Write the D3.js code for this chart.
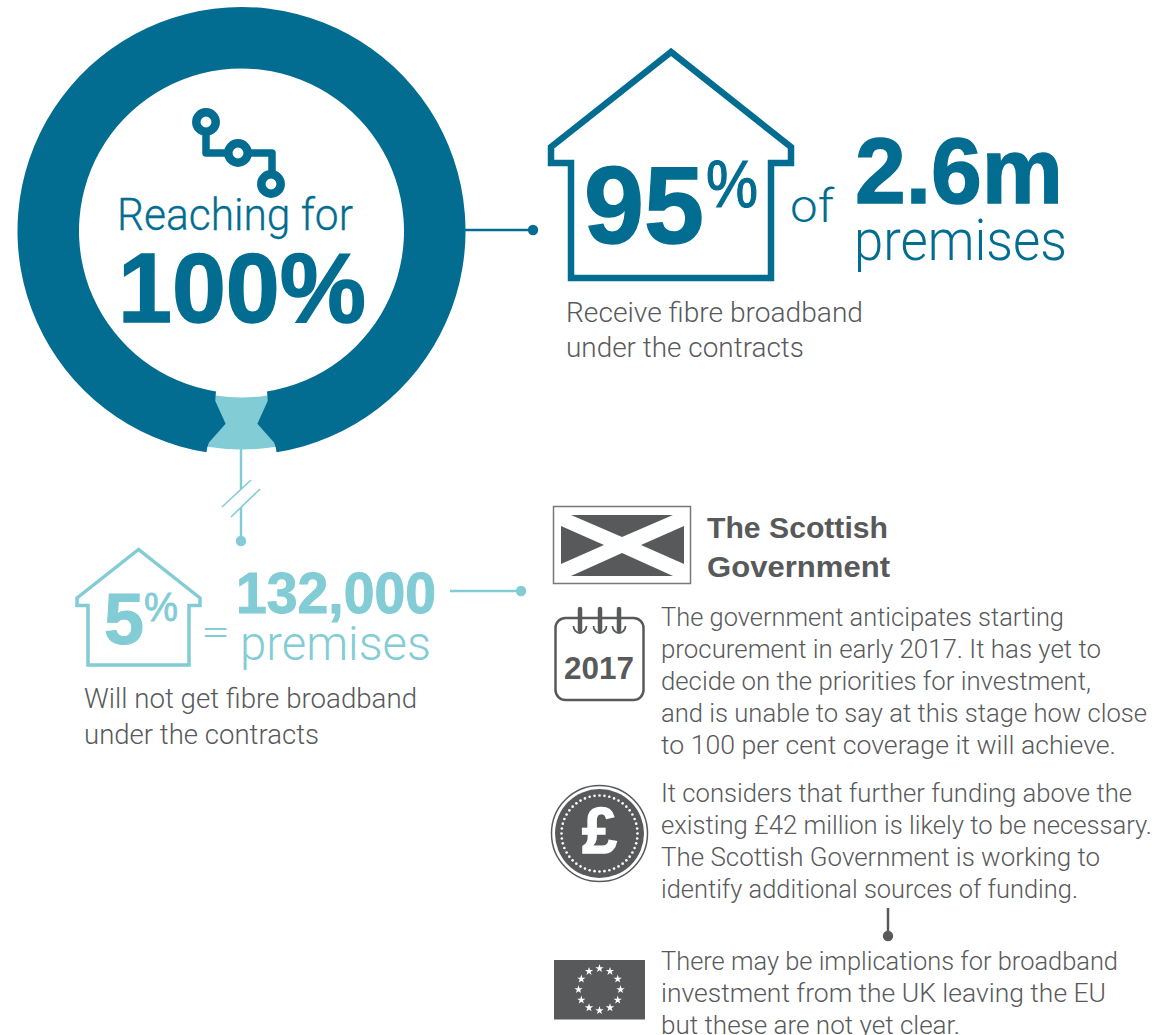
<!DOCTYPE html>
<html>
<head>
  <meta charset="UTF-8">
  <style>
body { margin: 0; padding: 0; background: #fff; overflow: hidden; }
svg { display: block; }
text { font-family: "Roboto", "Liberation Sans", sans-serif; font-weight: 300; }
text.heavy { font-family: "Liberation Sans", sans-serif; font-weight: 700; }
text.mid { font-family: "Liberation Sans", sans-serif; font-weight: 400; }
  </style>
</head>
<body>
<svg></svg>
<script src="https://d3js.org/d3.v7.min.js"></script>
<script>

let width = 1173, height = 1035;

const dark = "#026d90", teal = "#82ccd6", grey = "#58595b";

// the ring: 95% reached, 5% not
const coverage = [95, 5];
const ringColors = [dark, teal];

const headline = ["Reaching for", "100%"];
const bigShare = ["95", "%", "of", "2.6m", "premises"];
const bigNote = ["Receive fibre broadband", "under the contracts"];
const smallShare = ["5", "%", "=", "132,000", "premises"];
const smallNote = ["Will not get fibre broadband", "under the contracts"];
const govTitle = ["The Scottish", "Government"];
const para1 = [
  "The government anticipates starting",
  "procurement in early 2017. It has yet to",
  "decide on the priorities for investment,",
  "and is unable to say at this stage how close",
  "to 100 per cent coverage it will achieve."
];
const para2 = [
  "It considers that further funding above the",
  "existing £42 million is likely to be necessary.",
  "The Scottish Government is working to",
  "identify additional sources of funding."
];
const para3 = [
  "There may be implications for broadband",
  "investment from the UK leaving the EU",
  "but these are not yet clear."
];
const para1Widths = [403, 440, 430, 486, 455];
const para2Widths = [471, 491, 439, 417];
const para3Widths = [457, 445, 299];

let svg = d3.select("svg")
    .attr("width", width)
    .attr("height", height)
    .attr("viewBox", "0 0 " + width + " " + height);

// text helper, w stretches the line to the width it has in the picture
function label(str, x, y, size, color, opts) {
  opts = opts || {};
  let t = svg.append("text")
      .attr("x", x)
      .attr("y", y)
      .attr("font-size", size)
      .attr("fill", color)
      .attr("class", opts.heavy ? "heavy" : (opts.mid ? "mid" : null))
      .text(str);
  if (opts.w) t.attr("textLength", opts.w).attr("lengthAdjust", "spacingAndGlyphs");
  if (opts.thick) t.attr("stroke", color).attr("stroke-width", opts.thick);
  return t;
}

function connector(x1, y1, x2, y2, color, sw) {
  svg.append("line")
      .attr("x1", x1).attr("y1", y1).attr("x2", x2).attr("y2", y2)
      .attr("stroke", color).attr("stroke-width", sw);
  svg.append("circle").attr("cx", x2).attr("cy", y2).attr("r", 5.2).attr("fill", color);
}

function house(points, color, sw) {
  svg.append("path")
      .attr("d", d3.line()(points) + "Z")
      .attr("fill", "none")
      .attr("stroke", color)
      .attr("stroke-width", sw)
      .attr("stroke-linejoin", "miter");
}

// connectors go under the ring
connector(460, 230, 533, 230, dark, 2.5);
connector(241, 440, 241, 541, teal, 2.5);

// ring
const cx = 241.5, cy = 231, rOuter = 224, rInner = 162.5;
const pie = d3.pie().sort(null)
    .startAngle(Math.PI * 1.05)
    .endAngle(Math.PI * 3.05);
const arc = d3.arc();

const ring = svg.append("g").attr("transform", `translate(${cx},${cy})`);
const slices = pie(coverage);
// the small slice sits a little inside the ring's edges
ring.selectAll("path")
    .data(slices)
    .enter()
    .append("path")
    .attr("d", (d, i) => arc({
      innerRadius: i ? rInner + 4 : rInner,
      outerRadius: i ? rOuter - 5.5 : rOuter,
      startAngle: d.startAngle,
      endAngle: d.endAngle
    }))
    .attr("fill", (d, i) => ringColors[i]);

// the two dark bites that pinch the teal slice into an hourglass
const small = slices[1];
const polar = (a, r) => [r * Math.sin(a), -r * Math.cos(a)];
[[small.startAngle, 1], [small.endAngle, -1]].forEach(s => {
  const a = s[0], dir = s[1];
  ring.append("path")
      .attr("d", d3.line()([
        polar(a - dir * 0.01, rInner + 3),
        polar(a, rInner + 3),
        polar(a + dir * 0.004, rInner + 9.5),
        polar(a + dir * 0.075, rInner + 31),
        polar(a + dir * 0.0045, rOuter - 10),
        polar(a, rOuter - 5),
        polar(a - dir * 0.01, rOuter - 5)
      ]) + "Z")
      .attr("fill", dark);
});

// white cut across the connector
svg.append("path")
    .attr("d", "M222,507L251,480L260,489L231,517Z")
    .attr("fill", "#fff");
[[222, 507, 251, 480], [231, 517, 260, 489]].forEach(d => {
  svg.append("line")
      .attr("x1", d[0]).attr("y1", d[1]).attr("x2", d[2]).attr("y2", d[3])
      .attr("stroke", teal).attr("stroke-width", 1.6);
});

// circuit icon
const circuit = svg.append("g").attr("fill", "none").attr("stroke", dark);
circuit.append("path")
    .attr("stroke-width", 7.5)
    .attr("d", "M206,130V153H232M245,153H272V177")
    .attr("stroke-linejoin", "round");
[[206, 122], [238, 153], [271, 184]].forEach(d => {
  circuit.append("circle").attr("cx", d[0]).attr("cy", d[1]).attr("r", 9.7).attr("stroke-width", 8.5);
});

label(headline[0], 117, 230, 44, dark, {w: 236, thick: 0.3});
label(headline[1], 118, 322, 99, dark, {heavy: true, w: 248, thick: 1.5});

// big house
house([[671, 52], [551, 147], [551, 163], [571, 163], [571, 278], [771, 278], [771, 163], [791, 163], [791, 147]], dark, 6.5);
label(bigShare[0], 584, 243, 109, dark, {heavy: true, w: 120, thick: 1.5});
label(bigShare[1], 706, 207, 66, dark, {mid: true, w: 52, thick: 1.2});
label(bigShare[2], 790, 222, 46, dark, {w: 44});
label(bigShare[3], 855, 203, 93, dark, {heavy: true, w: 208, thick: 1.5});
label(bigShare[4], 854, 260, 57, dark, {w: 213});
label(bigNote[0], 566, 322, 27.5, grey, {w: 297});
label(bigNote[1], 566, 357, 27.5, grey, {w: 238});

// small house
house([[138.5, 549.5], [77, 598], [77, 605.5], [88, 605.5], [88, 665], [189, 665], [189, 605.5], [200, 605.5], [200, 598]], teal, 3.5);
label(smallShare[0], 104, 644, 72, teal, {heavy: true, w: 40, thick: 1});
label(smallShare[1], 144, 621, 41, teal, {mid: true, w: 34, thick: 0.8});
label(smallShare[2], 201, 645, 36, teal, {w: 29});
label(smallShare[3], 236, 613, 57, teal, {heavy: true, w: 200, thick: 1});
label(smallShare[4], 240, 660, 48, teal, {w: 191});
label(smallNote[0], 84, 708, 27.5, grey, {w: 333});
label(smallNote[1], 84, 744, 27.5, grey, {w: 235});
connector(450, 591, 521, 591, teal, 2.5);

// saltire
svg.append("rect").attr("x", 553.5).attr("y", 506.5).attr("width", 137).attr("height", 77)
    .attr("fill", "#fff").attr("stroke", "#77787b").attr("stroke-width", 1.5);
[
  [[571, 515], [673, 515], [622, 537]],
  [[571, 576], [673, 576], [622, 553]],
  [[561, 526], [561, 564], [604, 545]],
  [[684, 526], [684, 564], [641, 545]]
].forEach(p => {
  svg.append("path").attr("d", d3.line()(p) + "Z").attr("fill", grey);
});
label(govTitle[0], 707, 538, 30, grey, {heavy: true, w: 181});
label(govTitle[1], 707, 577, 30, grey, {heavy: true, w: 183});

// calendar
svg.append("rect").attr("x", 555.5).attr("y", 618).attr("width", 88).attr("height", 82).attr("rx", 10)
    .attr("fill", "none").attr("stroke", grey).attr("stroke-width", 2.5);
[580, 600, 619].forEach(x => {
  svg.append("circle").attr("cx", x).attr("cy", 628).attr("r", 7.5).attr("fill", "#fff").attr("stroke", "none");
  svg.append("path").attr("d", `M${x - 6.5},626A6.5,7 0 1 0 ${x + 6.5},626`)
      .attr("fill", "none").attr("stroke", grey).attr("stroke-width", 1.8);
  svg.append("line").attr("x1", x).attr("x2", x).attr("y1", 609).attr("y2", 630)
      .attr("stroke", grey).attr("stroke-width", 4.5).attr("stroke-linecap", "round");
});
label("2017", 564, 679, 31, grey, {heavy: true, w: 70});

// pound coin
const coinX = 599.5, coinY = 833.5;
svg.append("circle").attr("cx", coinX).attr("cy", coinY).attr("r", 48).attr("fill", "none").attr("stroke", grey).attr("stroke-width", 1.5);
svg.append("circle").attr("cx", coinX).attr("cy", coinY).attr("r", 44.5).attr("fill", grey);
svg.selectAll(".coin-dot")
    .data(d3.range(48))
    .enter()
    .append("circle")
    .attr("cx", d => coinX + 38 * Math.cos(d / 48 * 2 * Math.PI))
    .attr("cy", d => coinY + 38 * Math.sin(d / 48 * 2 * Math.PI))
    .attr("r", 1.3)
    .attr("fill", "#fff");
label("£", 582, 853, 65, "#fff", {heavy: true, w: 35, thick: 1.5});

// EU flag
const euX = 599.5, euY = 989.5;
svg.append("rect").attr("x", 554).attr("y", 960).attr("width", 91).attr("height", 59.5).attr("fill", grey);
svg.selectAll(".eu-star")
    .data(d3.range(12))
    .enter()
    .append("path")
    .attr("d", d3.symbol(d3.symbolStar, 22))
    .attr("transform", d => {
      const a = d / 12 * 2 * Math.PI;
      return `translate(${euX + 21 * Math.sin(a)},${euY - 21 * Math.cos(a)})`;
    })
    .attr("fill", "#fff");

connector(888, 908, 888, 936, grey, 2.5);

// paragraphs
function paragraph(lines, widths, y) {
  lines.forEach((line, i) => {
    label(line, 661, y + i * 32, 25.5, grey, {w: widths[i]});
  });
}
paragraph(para1, para1Widths, 625.5);
paragraph(para2, para2Widths, 801.5);
paragraph(para3, para3Widths, 969.5);

</script>
</body>
</html>
